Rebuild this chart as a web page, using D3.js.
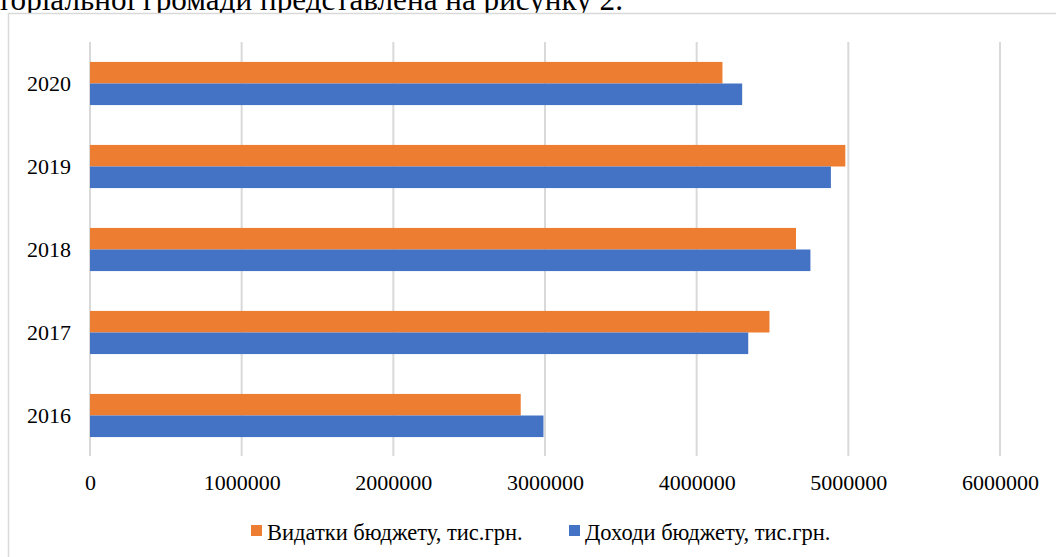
<!DOCTYPE html>
<html>
<head>
<meta charset="utf-8">
<script src="https://cdn.jsdelivr.net/npm/d3@7"></script>
<style>
	body { margin: 0; background: #fff; }
	svg { display: block; font-family: "Liberation Serif", "Times New Roman", serif; }
</style>
</head>
<body>
<div id="chart"></div>
<script>

var years = ['2016', '2017', '2018', '2019', '2020'];
var spending = [2840000, 4480000, 4655000, 4980000, 4170000];   // Видатки бюджету
var income = [2990000, 4340000, 4750000, 4885000, 4300000];     // Доходи бюджету
var xTicks = [0, 1000000, 2000000, 3000000, 4000000, 5000000, 6000000];
var seriesNames = ['Видатки бюджету, тис.грн.', 'Доходи бюджету, тис.грн.'];
var seriesColors = ['#ED7D31', '#4472C4'];
var captionTail = 'торіальної громади представлена на рисунку 2.';

var svgWidth = 1056;
var svgHeight = 557;

var svg = d3.select('#chart').append('svg')
	.attr('width', svgWidth)
	.attr('height', svgHeight);

// bit of the page text above the figure (cut off by the crop, as in the scan)
var cap = svg.append('text')
	.attr('x', 623)
	.attr('y', 10)
	.attr('text-anchor', 'end')
	.style('font-family', '"Liberation Serif", "Times New Roman", serif')
	.style('font-size', '30px')
	.style('fill', '#000')
	.text(captionTail);
// stretch font so the line spans from the left edge to x=623
var capLen = cap.node().getComputedTextLength();
cap.style('font-size', (30 * 626 / capLen) + 'px');

// chart frame (runs off right and bottom edges)
svg.append('rect')
	.attr('x', 8.5)
	.attr('y', 13.5)
	.attr('width', 1100)
	.attr('height', 600)
	.style('fill', '#fff')
	.style('stroke', '#d9d9d9')
	.style('stroke-width', 1.5);

var x = d3.scaleLinear().domain([0, 6000000]).range([90, 1000]);
var y = d3.scaleBand().domain(years.slice().reverse()).range([42, 457])
	.paddingInner(0.48).paddingOuter(0.24);

// vertical gridlines
svg.selectAll('.grid').data(xTicks).enter().append('line')
	.attr('class', 'grid')
	.attr('x1', function(d) { return x(d); })
	.attr('x2', function(d) { return x(d); })
	.attr('y1', 42)
	.attr('y2', 456)
	.style('stroke', '#d9d9d9')
	.style('stroke-width', 2);

var data = years.map(function(yr, i) {
	return {year: yr, values: [spending[i], income[i]]};
});

var half = y.bandwidth() / 2;

var g = svg.selectAll('.yr').data(data).enter().append('g').attr('class', 'yr');

g.selectAll('rect').data(function(d) {
		return d.values.map(function(v, k) { return {year: d.year, value: v, k: k}; });
	}).enter().append('rect')
	.attr('x', x(0))
	.attr('y', function(d) { return y(d.year) + d.k * half; })
	.attr('width', function(d) { return x(d.value) - x(0); })
	.attr('height', half)
	.style('fill', function(d) { return seriesColors[d.k]; });

// category labels
svg.selectAll('.ylab').data(years).enter().append('text')
	.attr('class', 'ylab')
	.attr('x', 71)
	.attr('y', function(d) { return y(d) + y.bandwidth() / 2; })
	.attr('dy', '0.33em')
	.attr('text-anchor', 'end')
	.style('font-size', '22px')
	.text(function(d) { return d; });

// value axis labels
var xAxis = d3.axisBottom(x).tickValues(xTicks).tickSize(0).tickPadding(0)
	.tickFormat(function(d) { return String(d); });

var ax = svg.append('g')
	.attr('transform', 'translate(0,474)')
	.call(xAxis);
ax.select('.domain').remove();
ax.selectAll('text')
	.attr('dy', '0.71em')
	.style('font-family', '"Liberation Serif", "Times New Roman", serif')
	.style('font-size', '22px')
	.style('fill', '#000');

// legend
var legendX = [251, 569];
var legend = svg.selectAll('.legend').data(seriesNames).enter().append('g')
	.attr('class', 'legend')
	.attr('transform', function(d, i) { return 'translate(' + legendX[i] + ',525)'; });

legend.append('rect')
	.attr('width', 11)
	.attr('height', 11)
	.style('fill', function(d, i) { return seriesColors[i]; });

legend.append('text')
	.attr('x', 16)
	.attr('y', 15)
	.style('font-size', '22.5px')
	.text(function(d) { return d; });

</script>
</body>
</html>
